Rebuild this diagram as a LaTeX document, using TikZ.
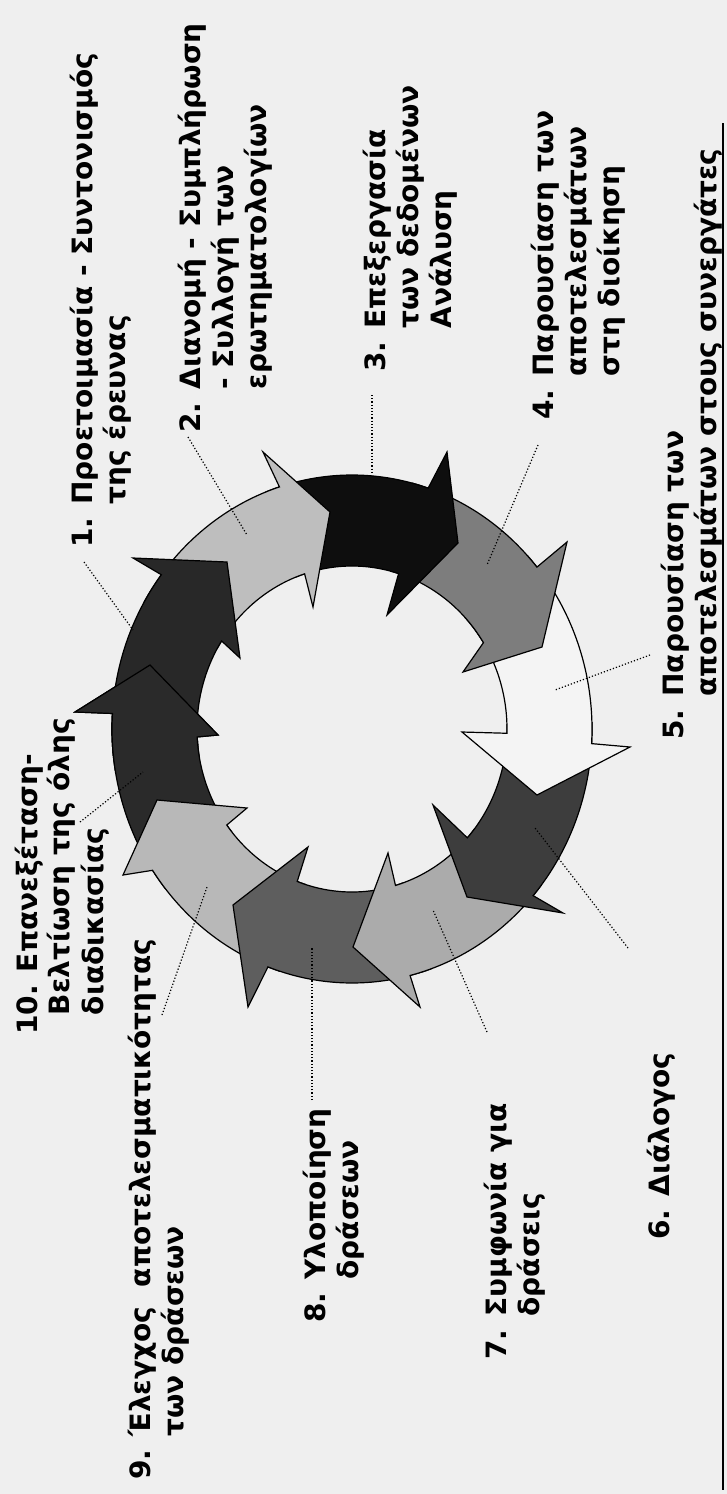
\documentclass[tikz,border=0pt]{standalone}
\usepackage{fontspec}
\setmainfont{DejaVu Sans}
\usepackage{tikz}
\usetikzlibrary{calc}

\definecolor{bggray}{HTML}{EFEFEF}
\definecolor{aonecol}{HTML}{282828}
\definecolor{atwocol}{HTML}{BEBEBE}
\definecolor{athreecol}{HTML}{0E0E0E}
\definecolor{afourcol}{HTML}{7D7D7D}
\definecolor{afivecol}{HTML}{F4F4F4}
\definecolor{asixcol}{HTML}{3D3D3D}
\definecolor{asevencol}{HTML}{ABABAB}
\definecolor{aeightcol}{HTML}{5E5E5E}
\definecolor{aninecol}{HTML}{B8B8B8}
\definecolor{atencol}{HTML}{2A2A2A}

\tikzset{
  ringarrow/.style={draw=black,line width=0.6pt,line join=miter},
  leader/.style={densely dotted,line width=0.6pt},
  steplabel/.style={rotate=90,anchor=base west,inner sep=0pt,
    font=\bfseries\fontsize{14}{16.5}\selectfont},
}

% #1 色, #2 尾の角度, #3 外側の切れ込み, #4 内側の切れ込み, #5 外側の返し, #6 先端, #7 内側の返し
\newcommand{\cyclearrow}[7]{%
  \draw[ringarrow,fill=#1] ($(C)+(#2:240 and 254)$)
    arc[start angle=#2,end angle=#3,x radius=240,y radius=254]
    -- #5 -- #6 -- #7 -- ($(C)+(#4:155 and 163)$)
    arc[start angle=#4,end angle=#2,x radius=155,y radius=163] -- cycle;}

\begin{document}
\begin{tikzpicture}[x=0.5pt,y=-0.5pt]
  \useasboundingbox (0,0) rectangle (727,1494);
  \fill[bggray] (0,0) rectangle (727,1494); % 背景
  \coordinate (C) at (352,729); % 輪の中心
  \cyclearrow{atencol}{501}{543.5}{537.2}{(75,712)}{(150,665)}{(218,735)} % 10番の矢印
  \cyclearrow{aninecol}{467.5}{506.2}{503.9}{(123,875)}{(157,800)}{(247,808)} % 9番の矢印
  \cyclearrow{aeightcol}{430.7}{470.5}{470.7}{(248,1007)}{(233,905)}{(308,847)} % 8番の矢印
  \cyclearrow{asevencol}{398}{436}{433.7}{(420,1007)}{(353,947)}{(388,853)} % 7番の矢印
  \cyclearrow{asixcol}{358.5}{401}{401.9}{(563,913)}{(467,897)}{(433,805)} % 6番の矢印
  \cyclearrow{afivecol}{317}{363.3}{361.5}{(630,747)}{(537,795)}{(462,732)} % 5番の矢印
  \cyclearrow{afourcol}{284.5}{320.4}{328}{(567,542)}{(542,647)}{(463,672)} % 4番の矢印
  \cyclearrow{athreecol}{249}{288.5}{287.5}{(447,452)}{(458,543)}{(387,615)} % 3番の矢印
  \cyclearrow{atwocol}{210}{252.4}{252.2}{(263,452)}{(330,512)}{(313,607)} % 2番の矢印
  \cyclearrow{aonecol}{174}{217.4}{212.7}{(133,558)}{(227,562)}{(240,658)} % 1番の矢印
  \begin{scope}
    \clip (C) -- ($(C)+(170:500)$) -- ($(C)+(190:500)$) -- ($(C)+(210:500)$) -- cycle; % 10番の頭だけを残す
    \cyclearrow{atencol}{501}{543.5}{537.2}{(75,712)}{(150,665)}{(218,735)} % 10番の頭を1番の上に重ねる
  \end{scope}

  \node[steplabel] (s1) at (92,548) {\begin{tabular}[t]{@{}l@{}}1. Προετοιμασία - Συντονισμός\\\phantom{1. }της έρευνας\end{tabular}}; % 1番の説明
  \node[steplabel] (s2) at (200,433) {\begin{tabular}[t]{@{}l@{}}2. Διανομή - Συμπλήρωση\\\phantom{2. }- Συλλογή των\\\phantom{2. }ερωτηματολογίων\end{tabular}}; % 2番の説明
  \node[steplabel] (s3) at (385,372) {\begin{tabular}[t]{@{}l@{}}3. Επεξεργασία\\\phantom{3. }των δεδομένων\\\phantom{3. }Ανάλυση\end{tabular}}; % 3番の説明
  \node[steplabel] (s4) at (553,420) {\begin{tabular}[t]{@{}l@{}}4. Παρουσίαση των\\\phantom{4. }αποτελεσμάτων\\\phantom{4. }στη διοίκηση\end{tabular}}; % 4番の説明
  \node[steplabel] (s5) at (683,740) {\begin{tabular}[t]{@{}l@{}}5. Παρουσίαση των\\\phantom{5. }αποτελεσμάτων στους συνεργάτες\end{tabular}}; % 5番の説明
  \node[steplabel] (s6) at (669,1240) {6. Διάλογος}; % 6番の説明
  \node[steplabel] (s7) at (506,1360) {\begin{tabular}[t]{@{}l@{}}7. Συμφωνία για\\\phantom{7. }δράσεις\end{tabular}}; % 7番の説明
  \node[steplabel] (s8) at (325,1323) {\begin{tabular}[t]{@{}l@{}}8. Υλοποίηση\\\phantom{8. }δράσεων\end{tabular}}; % 8番の説明
  \node[steplabel] (s9) at (150,1480) {\begin{tabular}[t]{@{}l@{}}9. Έλεγχος~ αποτελεσματικότητας\\\phantom{9. }των δράσεων\end{tabular}}; % 9番の説明
  \node[steplabel] (s10) at (37,1035) {\begin{tabular}[t]{@{}l@{}}10. Επανεξέταση-\\\phantom{1}Βελτίωση της όλης\\\phantom{1}διαδικασίας\end{tabular}}; % 10番の説明

  \coordinate (p1a) at (84,562); \coordinate (p1b) at (133,630); % 1番の引き出し線の両端
  \coordinate (p2a) at (188,437); \coordinate (p2b) at (247,535); % 2番の引き出し線の両端
  \coordinate (p3a) at (372,395); \coordinate (p3b) at (372,475); % 3番の引き出し線の両端
  \coordinate (p4a) at (538,445); \coordinate (p4b) at (487,565); % 4番の引き出し線の両端
  \coordinate (p5a) at (650,655); \coordinate (p5b) at (555,690); % 5番の引き出し線の両端
  \coordinate (p6a) at (628,948); \coordinate (p6b) at (535,828); % 6番の引き出し線の両端
  \coordinate (p7a) at (487,1032); \coordinate (p7b) at (433,910); % 7番の引き出し線の両端
  \coordinate (p8a) at (312,1100); \coordinate (p8b) at (312,947); % 8番の引き出し線の両端
  \coordinate (p9a) at (162,1015); \coordinate (p9b) at (207,887); % 9番の引き出し線の両端
  \coordinate (p10a) at (80,822); \coordinate (p10b) at (143,772); % 10番の引き出し線の両端
  \draw[leader] (p1a) -- (p1b); % 1番の引き出し線
  \draw[leader] (p2a) -- (p2b); % 2番の引き出し線
  \draw[leader] (p3a) -- (p3b); % 3番の引き出し線
  \draw[leader] (p4a) -- (p4b); % 4番の引き出し線
  \draw[leader] (p5a) -- (p5b); % 5番の引き出し線
  \draw[leader] (p6a) -- (p6b); % 6番の引き出し線
  \draw[leader] (p7a) -- (p7b); % 7番の引き出し線
  \draw[leader] (p8a) -- (p8b); % 8番の引き出し線
  \draw[leader] (p9a) -- (p9b); % 9番の引き出し線
  \draw[leader] (p10a) -- (p10b); % 10番の引き出し線

  \draw[line width=1.2pt] (723,123) -- (723,1490); % 右側の枠線
\end{tikzpicture}
\end{document}
